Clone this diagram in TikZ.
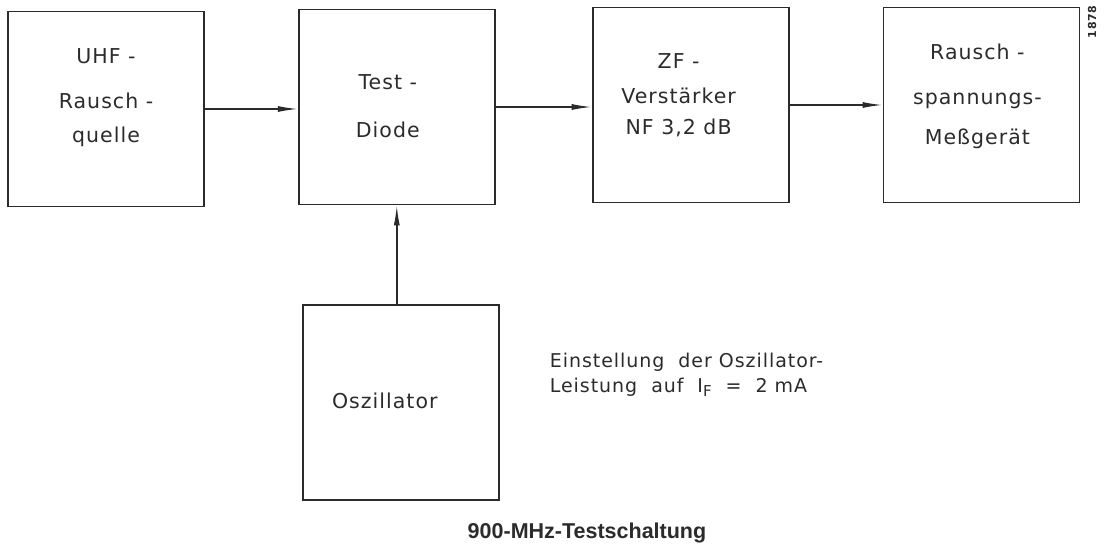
\documentclass[tikz,border=0pt]{standalone}
\usepackage{fontspec}
\setmainfont{DejaVu Sans}[LetterSpace=5]
\newfontfamily\capfont{Liberation Sans}
\usepackage{xcolor}
\usetikzlibrary{arrows.meta,positioning}
\definecolor{ink}{HTML}{2B2B2B}

\begin{document}
\begin{tikzpicture}[
    x=1pt, y=-1pt,
    node distance=93pt,
    box/.style={rectangle, draw=ink, line width=1.8pt, minimum width=196pt, minimum height=195pt, inner sep=0pt},
    lbl/.style={align=center, text=ink, font=\fontsize{20.5}{40}\selectfont, inner sep=0pt},
    note/.style={align=left, text=ink, font=\fontsize{19}{25}\selectfont, inner sep=0pt},
    arrow/.style={-{Latex[length=20pt,width=6pt]}, draw=ink, line width=1.4pt}
]
\useasboundingbox (0,0) rectangle (1108,546);

% signal chain
\node[box] (uhf) at (106,109) {};
\node[box, right=93pt of uhf, yshift=2pt] (test) {};
\node[box, right=96pt of test, yshift=2pt] (zf) {};
\node[box, right=of zf] (mess) {};
\node[box, below=99pt of test, xshift=4pt] (osz) {};

% box texts
\node[lbl] (uhftxt) at ([yshift=11pt]uhf) {UHF -\\[5pt]Rausch -\\[-6pt]quelle};
\node[lbl] (testtxt) at ([xshift=-9pt, yshift=1pt]test) {Test -\\[8pt]Diode};
\node[lbl] (zftxt) at ([xshift=-12pt, yshift=10pt]zf) {ZF -\\[-5pt]Verstärker\\[-9pt]NF 3,2 dB};
\node[lbl] (messtxt) at ([xshift=-4pt, yshift=9pt]mess) {Rausch -\\[5pt]spannungs-\\Meßgerät};
\node[lbl] (osztxt) at ([xshift=-16pt, yshift=2pt]osz) {Oszillator};

\node[note, right=50pt of osz, yshift=28pt] (hint)
    {Einstellung\ \ der Oszillator-\\Leistung\ \ auf\ \ I\raisebox{-4pt}{\fontsize{15}{15}\selectfont F}\ \ = \ 2 mA};
\node[text=ink, font=\capfont\bfseries\fontsize{21.5}{24}\selectfont, inner sep=0pt] (caption) at (587,533) {900-MHz-Testschaltung};
\node[text=ink, font=\bfseries\fontsize{11}{12}\selectfont, rotate=90, inner sep=0pt] (nr) at (1092,22) {1878};

\draw[arrow] (uhf.east) -- (uhf.east -| test.west);
\draw[arrow] (test.east) -- (test.east -| zf.west);
\draw[arrow] (zf.east) -- (zf.east -| mess.west);
\draw[arrow] (osz.north -| test.south) -- (test.south);
\end{tikzpicture}
\end{document}
